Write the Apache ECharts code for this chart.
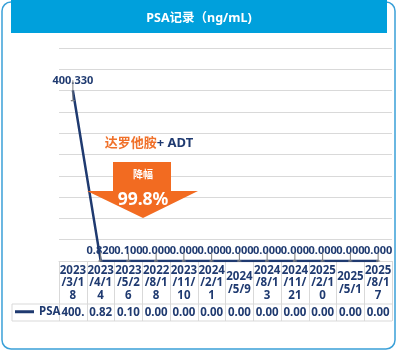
<!DOCTYPE html>
<html>
<head>
<meta charset="utf-8">
<script src="https://cdn.jsdelivr.net/npm/echarts@6/dist/echarts.min.js"></script>
<style>
  html, body { margin: 0; padding: 0; background: #fff; }
  #chart { width: 398px; height: 352px; }
</style>
</head>
<body>
<div id="chart"></div>
<script>
const dates = ["2023/3/18", "2023/4/14", "2023/5/26", "2022/8/18", "2023/11/10", "2024/2/11",
    "2024/5/9", "2024/8/13", "2024/11/21", "2025/2/10", "2025/5/1", "2025/8/17"];
const psa = [400.33, 0.82, 0.10, 0, 0, 0, 0, 0, 0, 0, 0, 0];
const psaErr = [24, 20, 20, 20, 20, 20, 20, 20, 20, 20, 20, 20];

const navy = "#1f3a70";
const orange = "#f26b21";
const gridGray = "#d9d9d9";
const font = "'Noto Sans', 'Noto Sans CJK SC', sans-serif";

// split a date into 4-char pieces so it wraps like the table cell
function wrapDate(s) {
    const parts = [];
    for (let i = 0; i < s.length; i += 4) {
        parts.push(s.slice(i, i + 4));
    }
    return parts.join("\n");
}

const chart = echarts.init(document.getElementById("chart"));

const option = {
    animation: false,
    textStyle: { fontFamily: font },
    title: {
        text: "PSA记录（ng/mL)",
        left: "center",
        top: 7,
        z: 10,
        textStyle: { color: "#fff", fontSize: 12.5, fontWeight: "bold", fontFamily: font },
    },
    legend: {
        data: ["PSA"],
        left: 15,
        top: 306,
        padding: 0,
        icon: "rect",
        itemWidth: 19,
        itemHeight: 3,
        textStyle: { color: navy, fontWeight: "bold", fontSize: 11.5, fontFamily: font },
    },
    grid: { left: 59, right: 6, top: 48, bottom: 91 },
    xAxis: [
        {
            type: "category",
            data: dates,
            position: "bottom",
            boundaryGap: true,
            axisLine: { lineStyle: { color: gridGray } },
            axisTick: { show: true, interval: 0, length: 60, lineStyle: { color: gridGray } },
            axisLabel: {
                interval: 0,
                formatter: wrapDate,
                verticalAlign: "middle",
                margin: 22,
                lineHeight: 12.5,
                fontSize: 11.5,
                fontWeight: "bold",
                color: navy,
                fontFamily: font,
            },
        },
        {
            type: "category",
            data: dates,
            position: "bottom",
            axisLine: { show: false },
            axisTick: { show: false },
            axisLabel: {
                interval: 0,
                margin: 52,
                verticalAlign: "middle",
                formatter: (v, i) => psa[i].toFixed(2).slice(0, 4),
                fontSize: 11.5,
                fontWeight: "bold",
                color: navy,
                fontFamily: font,
            },
        },
    ],
    yAxis: {
        type: "value",
        min: 0,
        max: 500,
        interval: 50,
        axisLabel: { show: false },
        axisLine: { show: false },
        axisTick: { show: false },
        splitLine: { lineStyle: { color: gridGray } },
    },
    series: [
        {
            name: "PSA",
            type: "line",
            data: psa,
            color: navy,
            symbol: "circle",
            symbolSize: 1,
            lineStyle: { width: 2.5, color: navy },
            label: {
                show: true,
                position: "top",
                distance: 4,
                formatter: (p) => p.value.toFixed(3),
                color: navy,
                fontWeight: "bold",
                fontSize: 11,
                fontFamily: font,
            },
            z: 3,
        },
        {
            name: "err",
            type: "custom",
            coordinateSystem: "cartesian2d",
            xAxisIndex: 0,
            yAxisIndex: 0,
            encode: { x: 0, y: 1 },
            clip: false,
            data: psa.map((v, i) => [i, v, psaErr[i]]),
            renderItem: (params, api) => {
                const i = api.value(0);
                const v = api.value(1);
                const e = api.value(2);
                const top = api.coord([i, v + e]);
                const bottom = api.coord([i, Math.max(0, v - e)]);
                return {
                    type: "polyline",
                    shape: { points: [[top[0], top[1]], [bottom[0], bottom[1]], [bottom[0] - 2, bottom[1]], [bottom[0] + 2, bottom[1]]] },
                    style: { stroke: "#808080", lineWidth: 1, fill: null },
                };
            },
            z: 4,
            silent: true,
        },
    ],
    graphic: [
        // outer frame and title bar
        { type: "rect", shape: { x: 2, y: 2, width: 393, height: 347, r: 9 },
          style: { fill: "none", stroke: "#3aa0d8", lineWidth: 1.5 }, z: 0 },
        { type: "rect", shape: { x: 11, y: 0, width: 376, height: 33 },
          style: { fill: "#00a0dc" }, z: 1 },
        // table rows
        { type: "line", shape: { x1: 12, y1: 304, x2: 392, y2: 304 }, style: { stroke: gridGray, lineWidth: 1 } },
        { type: "line", shape: { x1: 12, y1: 321, x2: 392, y2: 321 }, style: { stroke: gridGray, lineWidth: 1 } },
        { type: "line", shape: { x1: 12, y1: 304, x2: 12, y2: 321 }, style: { stroke: gridGray, lineWidth: 1 } },
        // annotation
        {
            type: "text",
            x: 149,
            y: 143,
            style: {
                text: "{o|达罗他胺}{n|+ ADT}",
                align: "center",
                verticalAlign: "middle",
                rich: {
                    o: { fill: "#f0712a", fontSize: 13, fontWeight: "bold", fontFamily: font },
                    n: { fill: navy, fontSize: 13, fontWeight: "bold", fontFamily: font },
                },
            },
            z: 5,
        },
        {
            type: "polygon",
            shape: { points: [[113, 162], [171, 162], [171, 191], [198, 191], [143, 218], [87, 191], [113, 191]] },
            style: { fill: orange },
            z: 5,
        },
        { type: "text", x: 143, y: 175,
          style: { text: "降幅", fill: "#fff", fontSize: 10, fontWeight: "bold", fontFamily: font,
                   align: "center", verticalAlign: "middle" }, z: 6 },
        { type: "text", x: 143, y: 200,
          style: { text: "99.8%", fill: "#fff", fontSize: 17.5, fontWeight: "bold", fontFamily: font,
                   align: "center", verticalAlign: "middle" }, z: 6 },
    ],
};

chart.setOption(option);
</script>
</body>
</html>
